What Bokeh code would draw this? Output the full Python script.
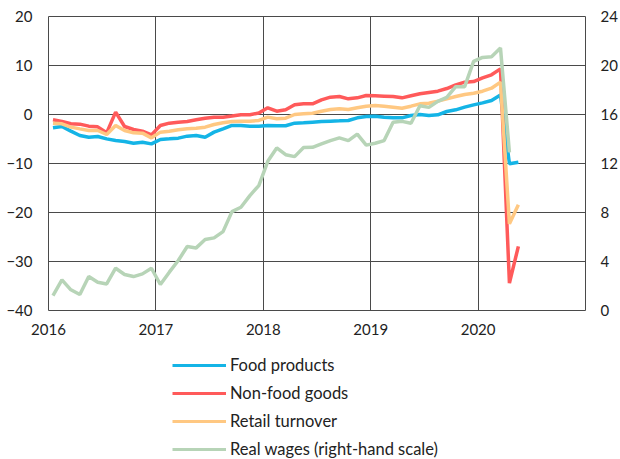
from bokeh.plotting import figure
from bokeh.layouts import column
from bokeh.models import (LinearAxis, Range1d, FixedTicker, Legend, LegendItem)
from bokeh.embed import file_html
from bokeh.resources import INLINE

months = [f"{y}-{m:02d}" for y in range(2016, 2021) for m in range(1, 13)][:53]

food_products = [-2.72, -2.45, -3.4, -4.29, -4.63, -4.49, -4.97, -5.31, -5.51, -5.85, -5.65, -5.99,
                 -5.1, -4.97, -4.83, -4.42, -4.29, -4.63, -3.6, -2.93, -2.24, -2.24, -2.38, -2.38,
                 -2.24, -2.3, -2.3, -1.77, -1.7, -1.56, -1.45, -1.36, -1.3, -1.22, -0.68, -0.41,
                 -0.34, -0.54, -0.68, -0.68, -0.2, 0.0, -0.2, -0.07, 0.61, 0.95, 1.5, 1.97,
                 2.38, 2.86, 4.0, -10.07, -9.73]
non_food_goods = [-1.09, -1.43, -1.9, -1.97, -2.38, -2.52, -3.74, 0.48, -2.45, -3.06, -3.4, -4.15,
                  -2.24, -1.77, -1.56, -1.43, -1.09, -0.75, -0.54, -0.54, -0.3, -0.05, -0.05, 0.3,
                  1.36, 0.68, 0.95, 1.97, 2.18, 2.18, 2.99, 3.54, 3.67, 3.2, 3.4, 3.88,
                  3.81, 3.74, 3.67, 3.4, 3.81, 4.22, 4.49, 4.76, 5.3, 6.05, 6.6, 6.73,
                  7.48, 8.1, 9.32, -34.4, -26.9]
retail_turnover = [-1.77, -1.9, -2.58, -2.93, -3.27, -3.27, -4.08, -2.24, -3.27, -3.74, -3.81, -4.76,
                   -3.6, -3.4, -3.13, -2.93, -2.79, -2.58, -2.04, -1.7, -1.43, -1.36, -1.36, -1.22,
                   -0.54, -0.88, -0.75, 0.0, 0.14, 0.27, 0.68, 1.02, 1.16, 1.02, 1.36, 1.7,
                   1.84, 1.7, 1.5, 1.29, 1.7, 2.18, 2.31, 2.72, 3.2, 3.67, 4.08, 4.35,
                   4.76, 5.37, 6.6, -22.3, -18.4]
real_wages = [1.22, 2.5, 1.69, 1.3, 2.77, 2.31, 2.17, 3.45, 2.94, 2.77, 2.99, 3.45,
              2.12, 3.13, 4.08, 5.22, 5.11, 5.79, 5.93, 6.44, 8.07, 8.43, 9.38, 10.2,
              12.18, 13.27, 12.72, 12.56, 13.3, 13.32, 13.6, 13.87, 14.09, 13.87, 14.4, 13.5,
              13.65, 13.87, 15.36, 15.44, 15.28, 16.72, 16.58, 17.07, 17.4, 18.27, 18.27, 20.33,
              20.66, 20.72, 21.43, 12.91]

x_ticks = [2016, 2017, 2018, 2019, 2020]
left_ticks = [-40, -30, -20, -10, 0, 10, 20]
right_ticks = [0, 4, 8, 12, 16, 20, 24]

labels = ["Food products", "Non-food goods", "Retail turnover", "Real wages (right-hand scale)"]
colors = ["#14b4e6", "#ff5a5a", "#ffc882", "#b7d4b7"]

def month_pos(s):
    y, m = s.split("-")
    return int(y) + (int(m) - 0.5) / 12.0

xs = [month_pos(s) for s in months]

FONT = "Lato"
GRID = "#4a4a4a"
TXT = "#222222"

# ---- main chart ----
p = figure(width=620, height=345, output_backend="svg", toolbar_location=None,
           x_range=Range1d(2016, 2021), y_range=Range1d(-40, 20),
           min_border_left=48, min_border_right=35, min_border_top=16, min_border_bottom=35)
p.extra_y_ranges = {"right": Range1d(0, 24)}

p.outline_line_color = GRID
p.outline_line_width = 1
p.border_fill_color = "white"

p.xaxis.ticker = FixedTicker(ticks=x_ticks)
p.yaxis.ticker = FixedTicker(ticks=left_ticks)
p.xgrid.ticker = FixedTicker(ticks=x_ticks)
p.ygrid.ticker = FixedTicker(ticks=left_ticks)
for g in (p.xgrid, p.ygrid):
    g.grid_line_color = GRID
    g.grid_line_width = 1

raxis = LinearAxis(y_range_name="right", ticker=FixedTicker(ticks=right_ticks))
p.add_layout(raxis, "right")

for ax in (p.xaxis[0], p.yaxis[0], raxis):
    ax.axis_line_color = None
    ax.major_tick_line_color = None
    ax.minor_tick_line_color = None
    ax.major_tick_out = 0
    ax.major_tick_in = 0
    ax.major_label_text_font = FONT
    ax.major_label_text_font_size = "15px"
    ax.major_label_text_color = TXT
p.xaxis.major_label_standoff = 13
p.yaxis[0].major_label_standoff = 16
raxis.major_label_standoff = 15

p.line(xs[:len(food_products)], food_products, line_color=colors[0], line_width=3.5)
p.line(xs[:len(non_food_goods)], non_food_goods, line_color=colors[1], line_width=3.5)
p.line(xs[:len(retail_turnover)], retail_turnover, line_color=colors[2], line_width=3.5)
p.line(xs[:len(real_wages)], real_wages, line_color=colors[3], line_width=3.5,
       y_range_name="right")

# ---- legend strip below ----
q = figure(width=620, height=114, output_backend="svg", toolbar_location=None,
           x_range=Range1d(0, 1), y_range=Range1d(0, 1),
           x_axis_type=None, y_axis_type=None,
           min_border_left=0, min_border_right=0, min_border_top=0, min_border_bottom=0)
q.outline_line_color = None
q.border_fill_color = "white"

items = []
for lab, col in zip(labels, colors):
    # legend swatch renderer, kept outside the visible range
    r = q.line(x=[5, 6], y=[5, 6], line_color=col, line_width=3.2)
    items.append(LegendItem(label=lab, renderers=[r]))

legend = Legend(items=items, location=(124, 0), orientation="vertical",
                glyph_width=54, glyph_height=20, label_height=20, label_standoff=4,
                spacing=8, padding=0, margin=0, border_line_color=None,
                background_fill_alpha=0, label_text_font=FONT,
                label_text_font_size="16.5px", label_text_color=TXT)
q.add_layout(legend, "center")

layout = column(p, q, spacing=0)
open("out.html", "w").write(file_html(layout, INLINE))
